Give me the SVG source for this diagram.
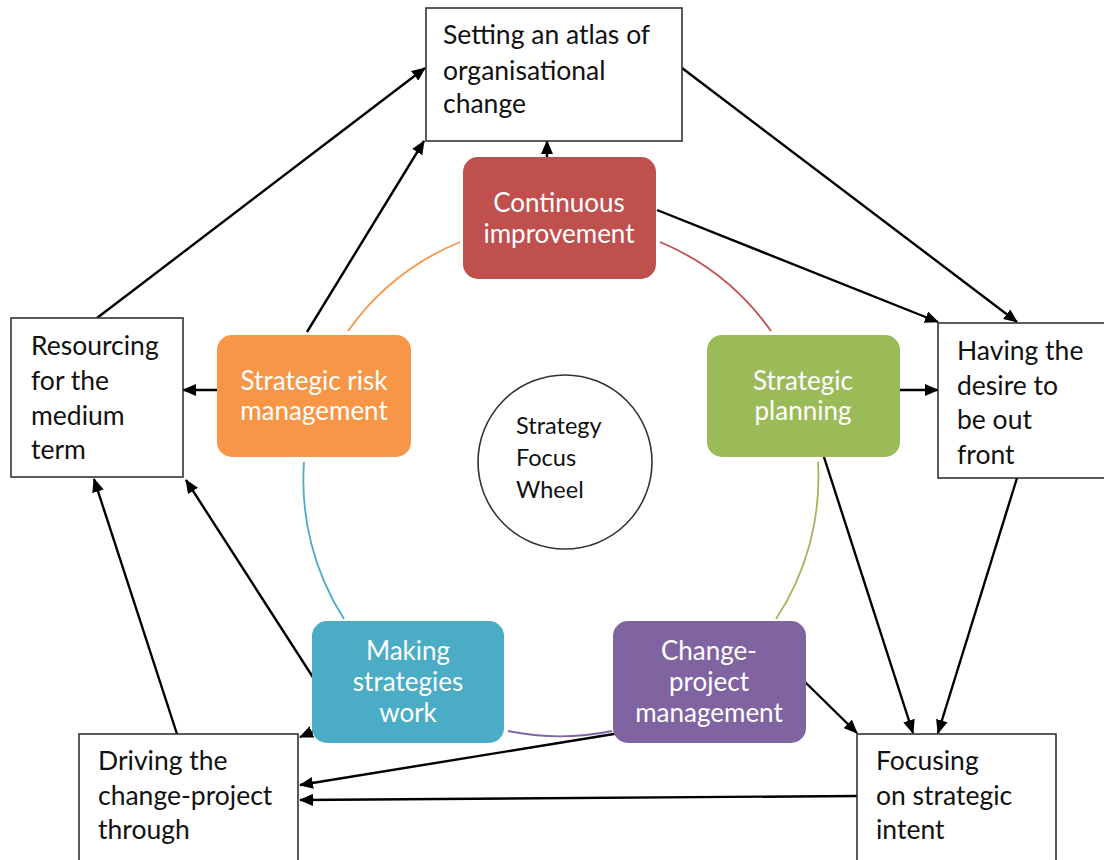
<svg xmlns="http://www.w3.org/2000/svg" width="1104" height="860" viewBox="0 0 1104 860">
<defs>
<marker id="ah" markerUnits="userSpaceOnUse" markerWidth="14" markerHeight="12" viewBox="0 0 14 12" refX="13" refY="6" orient="auto">
<path d="M0,0 L14,6 L0,12 z" fill="#000"/>
</marker>
<style>
.box{fill:#fff;stroke:#333;stroke-width:1.6}
.bt{font-family:Lato,"Liberation Sans",sans-serif;font-size:26.5px;fill:#111}
.wt{font-family:Lato,"Liberation Sans",sans-serif;font-size:26px;fill:#fff;text-anchor:middle}
.ct{font-family:Lato,"Liberation Sans",sans-serif;font-size:23.5px;fill:#111}
.arc{fill:none;stroke-width:1.8}
.con{fill:none;stroke:#000;stroke-width:2.4;marker-end:url(#ah)}
</style>
</defs>
<rect width="1104" height="860" fill="#fff"/>

<g id="wheel-arcs">
<path class="arc" stroke="#F79646" d="M348,331 A257,257 0 0 1 460,242"/>
<path class="arc" stroke="#C0504D" d="M660,242 A257,257 0 0 1 771,331"/>
<path class="arc" stroke="#9BBB59" d="M818,462 A257,257 0 0 1 776,619"/>
<path class="arc" stroke="#8064A2" d="M612,731 A257,257 0 0 1 508,731"/>
<path class="arc" stroke="#4BACC6" d="M344,619 A257,257 0 0 1 304,462"/>
</g>

<g id="connectors">
<line class="con" x1="97" y1="318" x2="425" y2="68"/>
<line class="con" x1="307" y1="332" x2="424" y2="141"/>
<line class="con" x1="547" y1="157" x2="547" y2="141"/>
<line class="con" x1="682" y1="68" x2="1017" y2="322"/>
<line class="con" x1="657" y1="210" x2="938" y2="322"/>
<line class="con" x1="899" y1="390" x2="938" y2="390"/>
<line class="con" x1="217" y1="390" x2="183" y2="390"/>
<line class="con" x1="823" y1="454" x2="913" y2="733"/>
<line class="con" x1="1017" y1="478" x2="938" y2="733"/>
<line class="con" x1="805" y1="682" x2="857" y2="733"/>
<line class="con" x1="620" y1="733" x2="300" y2="785"/>
<line class="con" x1="857" y1="796" x2="300" y2="800"/>
<line class="con" x1="316" y1="682" x2="186" y2="480"/>
<line class="con" x1="177" y1="734" x2="94" y2="479"/>
<line class="con" x1="314" y1="731" x2="300" y2="737"/>
</g>

<g id="atlas">
<rect class="box" x="426" y="8" width="256" height="133"/>
<text class="bt" x="443" y="44">Setting an atlas of</text>
<text class="bt" x="443" y="80">organisational</text>
<text class="bt" x="443" y="113">change</text>
</g>

<g id="resourcing">
<rect class="box" x="11" y="318" width="172" height="159"/>
<text class="bt" x="31" y="355">Resourcing</text>
<text class="bt" x="31" y="390">for the</text>
<text class="bt" x="31" y="425">medium</text>
<text class="bt" x="31" y="459">term</text>
</g>

<g id="desire">
<rect class="box" x="938" y="323" width="170" height="155"/>
<text class="bt" x="957" y="360">Having the</text>
<text class="bt" x="957" y="395">desire to</text>
<text class="bt" x="957" y="429">be out</text>
<text class="bt" x="957" y="464">front</text>
</g>

<g id="driving">
<rect class="box" x="79" y="734" width="219" height="140"/>
<text class="bt" x="98" y="770">Driving the</text>
<text class="bt" x="98" y="805">change-project</text>
<text class="bt" x="98" y="839">through</text>
</g>

<g id="focusing">
<rect class="box" x="857" y="734" width="199" height="140"/>
<text class="bt" x="876" y="770">Focusing</text>
<text class="bt" x="876" y="805">on strategic</text>
<text class="bt" x="876" y="839">intent</text>
</g>

<g id="continuous-improvement">
<rect x="463" y="157" width="193" height="122" rx="15" fill="#C0504D"/>
<text class="wt" x="559" y="212">Continuous</text>
<text class="wt" x="559" y="243">improvement</text>
</g>

<g id="strategic-planning">
<rect x="707" y="335" width="193" height="122" rx="15" fill="#9BBB59"/>
<text class="wt" x="803" y="390">Strategic</text>
<text class="wt" x="803" y="420">planning</text>
</g>

<g id="strategic-risk">
<rect x="217" y="335" width="194" height="122" rx="15" fill="#F79646"/>
<text class="wt" x="314" y="390">Strategic risk</text>
<text class="wt" x="314" y="420">management</text>
</g>

<g id="making-strategies">
<rect x="312" y="621" width="192" height="122" rx="15" fill="#4BACC6"/>
<text class="wt" x="408" y="660">Making</text>
<text class="wt" x="408" y="691">strategies</text>
<text class="wt" x="408" y="722">work</text>
</g>

<g id="change-project">
<rect x="613" y="621" width="193" height="122" rx="15" fill="#8064A2"/>
<text class="wt" x="709" y="660">Change-</text>
<text class="wt" x="709" y="691">project</text>
<text class="wt" x="709" y="722">management</text>
</g>

<g id="focus-wheel">
<circle cx="565" cy="462" r="87" fill="#fff" stroke="#333" stroke-width="1.6"/>
<text class="ct" x="516" y="434">Strategy</text>
<text class="ct" x="516" y="466">Focus</text>
<text class="ct" x="516" y="498">Wheel</text>
</g>
</svg>
